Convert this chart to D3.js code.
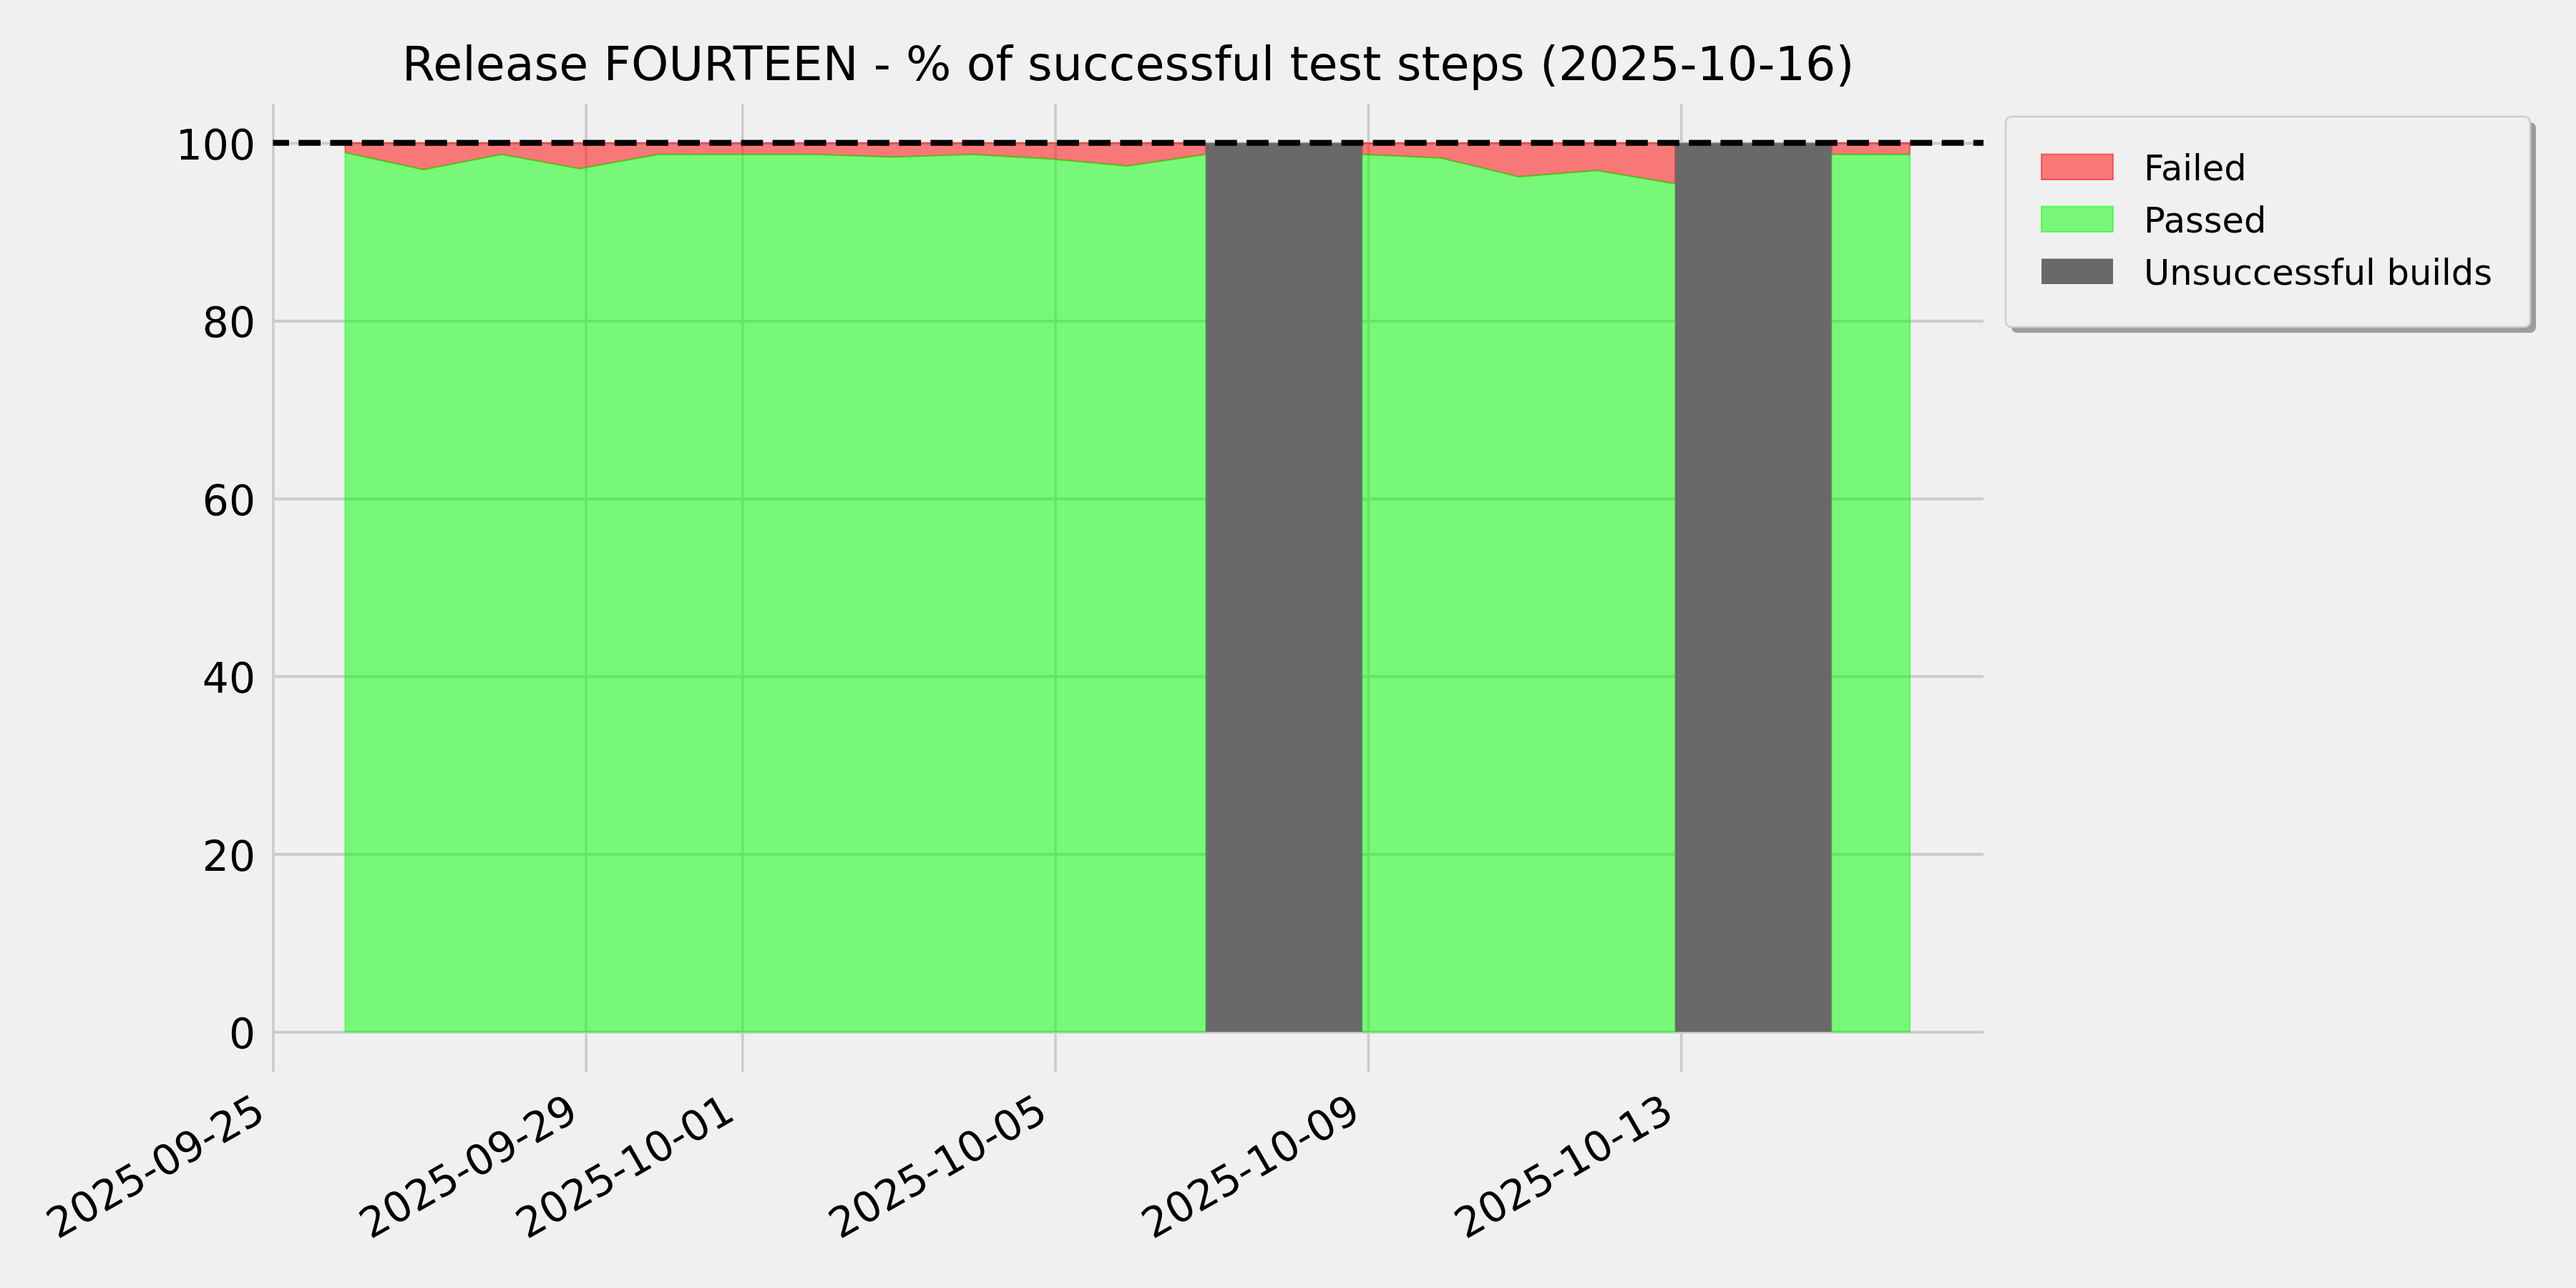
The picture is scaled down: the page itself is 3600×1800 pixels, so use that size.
<!DOCTYPE html>
<html>
<head>
<meta charset="utf-8">
<script src="https://cdn.jsdelivr.net/npm/d3@7/dist/d3.min.js"></script>
<style>
  html, body { margin: 0; padding: 0; background: #f0f0f0; }
  svg { display: block; font-family: "DejaVu Sans", sans-serif; }
</style>
</head>
<body>
<svg id="chart" width="3600" height="1800"></svg>
<script>
// ---------------- data ----------------
const timestamps = [
  "2025-09-25T22:12", "2025-09-26T22:12", "2025-09-27T22:12", "2025-09-28T22:12",
  "2025-09-29T22:12", "2025-09-30T22:12", "2025-10-01T22:12", "2025-10-02T22:12",
  "2025-10-03T22:12", "2025-10-04T22:12", "2025-10-05T22:12", "2025-10-06T22:12",
  "2025-10-07T22:12", "2025-10-08T22:12", "2025-10-09T22:12", "2025-10-10T22:12",
  "2025-10-11T22:12", "2025-10-12T22:12", "2025-10-13T22:12", "2025-10-14T22:12",
  "2025-10-15T22:12"
];
const passedPct = [98.9, 97.0, 98.7, 97.1, 98.7, 98.7, 98.7, 98.4, 98.7, 98.2, 97.4, 98.7,
                   null, 98.7, 98.3, 96.2, 96.9, 95.4, null, 98.7, 98.7];
const failedPct = [1.1, 3.0, 1.3, 2.9, 1.3, 1.3, 1.3, 1.6, 1.3, 1.8, 2.6, 1.3,
                   null, 1.3, 1.7, 3.8, 3.1, 4.6, null, 1.3, 1.3];
const unsuccessfulBuild = [false, false, false, false, false, false, false, false, false, false, false, false,
                           true, false, false, false, false, false, true, false, false];
const xTickLabels = ["2025-09-25", "2025-09-29", "2025-10-01", "2025-10-05", "2025-10-09", "2025-10-13"];
const xDomainStrings = ["2025-09-25T00:00", "2025-10-16T20:48"];
const yTickValues = [0, 20, 40, 60, 80, 100];
const yDomain = [-4.5, 104.4];
const targetValue = 100;
const titleText = "Release FOURTEEN - % of successful test steps (2025-10-16)";
const legendLabels = ["Failed", "Passed", "Unsuccessful builds"];

(function () {
// ---------------- styles ----------------
const BG = "#f0f0f0";
const GRID = "#cbcbcb";
const RED = "#ff0000";
const LIME = "#00ff00";
const GRAY = "#696969";

// ---------------- layout ----------------
const pL = 381.3, pR = 2772, pT = 145, pB = 1498;
const tickFont = 58.3, titleFont = 66.7, legendFont = 49.5;

const parseT = d3.utcParse("%Y-%m-%dT%H:%M");
const parseD = d3.utcParse("%Y-%m-%d");
const fmtD = d3.utcFormat("%Y-%m-%d");

const rows = timestamps.map((t, i) => ({
  date: parseT(t), passed: passedPct[i], failed: failedPct[i], bad: unsuccessfulBuild[i]
}));
const xTicks = xTickLabels.map(parseD);

const x = d3.scaleUtc().domain(xDomainStrings.map(parseT)).range([pL, pR]);
const y = d3.scaleLinear().domain(yDomain).range([pB, pT]);

const svg = d3.select("#chart");
svg.append("rect").attr("width", 3600).attr("height", 1800).attr("fill", BG);

svg.append("defs").append("clipPath").attr("id", "plotclip")
  .append("rect").attr("x", pL).attr("y", pT).attr("width", pR - pL).attr("height", pB - pT);

// grid
const gx = svg.append("g").attr("transform", `translate(0,${pB})`)
  .call(d3.axisBottom(x).tickValues(xTicks).tickSize(-(pB - pT)).tickFormat(""));
gx.select(".domain").remove();
gx.selectAll("line").attr("stroke", GRID).attr("stroke-width", 3.5);

const gy = svg.append("g").attr("transform", `translate(${pL},0)`)
  .call(d3.axisLeft(y).tickValues(yTickValues).tickSize(-(pR - pL)).tickFormat(""));
gy.select(".domain").remove();
gy.selectAll("line").attr("stroke", GRID).attr("stroke-width", 4);

// stacked areas
const stack = d3.stack().keys(["passed", "failed"]).value((d, k) => d[k] == null ? 0 : d[k]);
const series = stack(rows);
const area = d3.area()
  .defined(p => p.data.passed != null)
  .x(p => x(p.data.date))
  .y0(p => y(p[0]))
  .y1(p => y(p[1]));

const plot = svg.append("g").attr("clip-path", "url(#plotclip)");
const colorOf = { passed: LIME, failed: RED };
[series[1], series[0]].forEach(s => {
  plot.append("path")
    .attr("d", area(s))
    .attr("fill", colorOf[s.key]).attr("fill-opacity", 0.5)
    .attr("stroke", colorOf[s.key]).attr("stroke-opacity", 0.5)
    .attr("stroke-width", 2).attr("stroke-linejoin", "miter");
});

// unsuccessful builds
plot.selectAll("rect.bad").data(rows.filter(r => r.bad)).join("rect")
  .attr("class", "bad")
  .attr("x", d => x(d3.utcDay.offset(d.date, -1)))
  .attr("width", d => x(d3.utcDay.offset(d.date, 1)) - x(d3.utcDay.offset(d.date, -1)))
  .attr("y", y(targetValue))
  .attr("height", y(0) - y(targetValue))
  .attr("fill", GRAY);

// target dashed line
plot.append("line")
  .attr("x1", pL).attr("x2", pR)
  .attr("y1", y(targetValue)).attr("y2", y(targetValue))
  .attr("stroke", "#000").attr("stroke-width", 8.33)
  .attr("stroke-dasharray", "30.83 13.33").attr("stroke-dashoffset", 8.2);

// x tick labels
const xl = svg.append("g").attr("transform", `translate(0,${pB})`)
  .call(d3.axisBottom(x).tickValues(xTicks).tickSize(0).tickFormat(fmtD));
xl.select(".domain").remove();
xl.selectAll("text")
  .attr("x", 0).attr("y", 0).attr("dy", null)
  .attr("transform", `translate(-8,${1563 - pB}) rotate(-30)`)
  .style("text-anchor", "end")
  .attr("fill", "#000")
  .style("font-size", tickFont + "px")
  .style("font-family", "DejaVu Sans");

// y tick labels
const yl = svg.append("g").attr("transform", `translate(${pL},0)`)
  .call(d3.axisLeft(y).tickValues(yTickValues).tickSize(0).tickPadding(pL - 357).tickFormat(d3.format("d")));
yl.select(".domain").remove();
yl.selectAll("text")
  .attr("dy", "0.39em")
  .attr("fill", "#000")
  .style("font-size", tickFont + "px")
  .style("font-family", "DejaVu Sans");

// title
svg.append("text")
  .attr("x", (pL + pR) / 2).attr("y", 112)
  .attr("text-anchor", "middle")
  .style("font-size", titleFont + "px")
  .attr("fill", "#000")
  .text(titleText);

// legend
const lg = svg.append("g");
const lx = 2803, ly = 163, lw = 733, lh = 294;
lg.append("rect").attr("x", lx + 8).attr("y", ly + 8).attr("width", lw).attr("height", lh)
  .attr("rx", 8).attr("fill", "#9c9c9c");
lg.append("rect").attr("x", lx).attr("y", ly).attr("width", lw).attr("height", lh)
  .attr("rx", 8).attr("fill", BG).attr("stroke", "#cccccc").attr("stroke-width", 2.5);
const legendStyles = [
  { fill: RED, op: 0.5, stroke: RED },
  { fill: LIME, op: 0.5, stroke: LIME },
  { fill: GRAY, op: 1, stroke: "none" }
];
legendLabels.forEach((lab, i) => {
  const base = 251.5 + i * 73;
  const st = legendStyles[i];
  lg.append("rect").attr("x", 2853).attr("y", base - 36).attr("width", 100).attr("height", 35.5)
    .attr("fill", st.fill).attr("fill-opacity", st.op)
    .attr("stroke", st.stroke).attr("stroke-opacity", 0.5).attr("stroke-width", 2);
  lg.append("text").attr("x", 2996).attr("y", base)
    .style("font-size", legendFont + "px").attr("fill", "#000").text(lab);
});
})();
</script>
</body>
</html>
